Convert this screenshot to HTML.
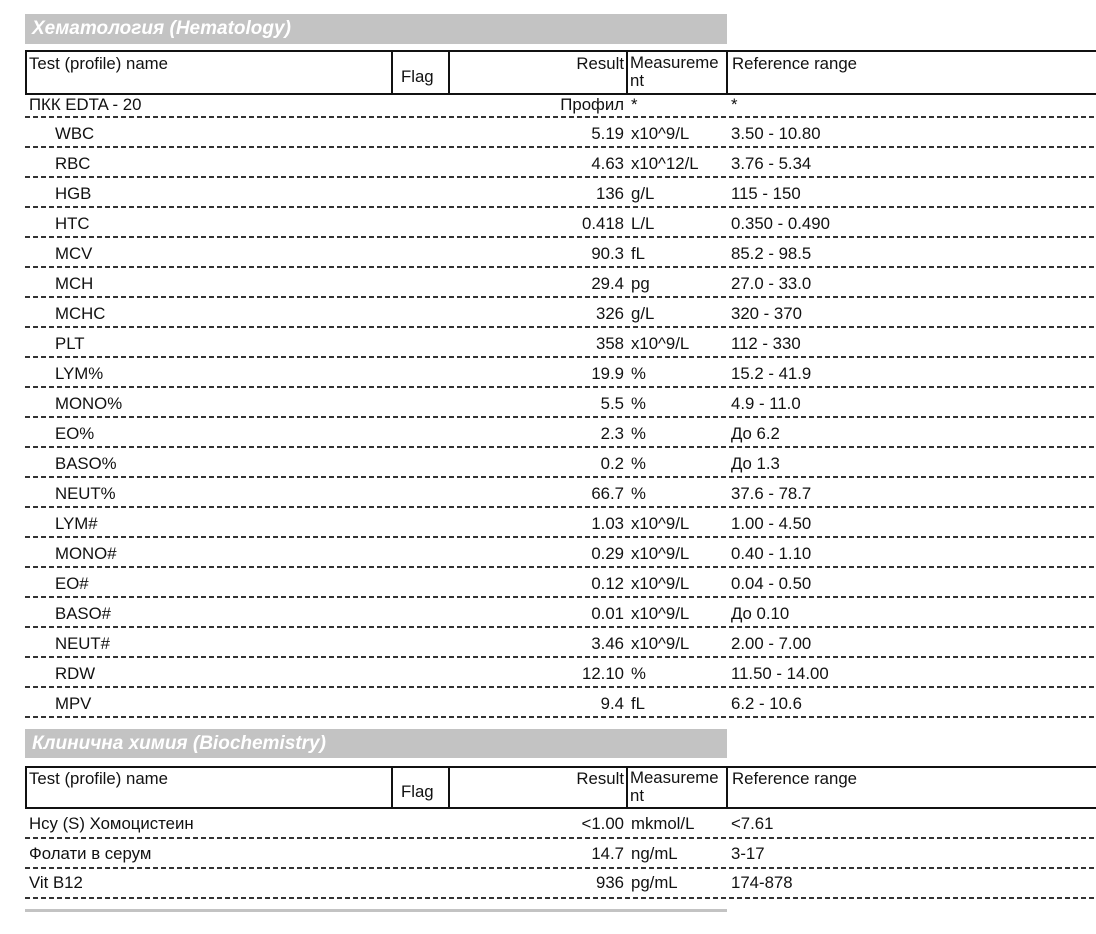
<!DOCTYPE html>
<html><head><meta charset="utf-8"><style>
body{margin:0;width:1096px;height:934px;background:#fff;position:relative;overflow:hidden;font-family:"Liberation Sans",Arial,sans-serif;font-size:16.8px;color:#111}
.a{position:absolute;white-space:nowrap;line-height:20px}
.bar{position:absolute;left:25px;width:702px;background:#c3c3c3;color:#fff;font-weight:bold;font-style:italic;font-size:19px;line-height:30px;padding-left:7px;box-sizing:border-box}
.hd{position:absolute;left:25px;width:1080px;border:2px solid #111;box-sizing:border-box}
.vl{position:absolute;width:2px;background:#111}
.dl{position:absolute;left:25px;width:1071px;height:2px;background:repeating-linear-gradient(90deg,#333 0 5px,transparent 5px 8px)}
.r{text-align:right;width:200px}
</style></head><body>
<div class="bar" style="top:14px;height:30px">Хематология (Hematology)</div>
<div class="hd" style="top:50px;height:45px"></div>
<div class="vl" style="left:391px;top:50px;height:45px"></div>
<div class="vl" style="left:448px;top:50px;height:45px"></div>
<div class="vl" style="left:626px;top:50px;height:45px"></div>
<div class="vl" style="left:726px;top:50px;height:45px"></div>
<div class="a" style="left:29px;top:54px">Test (profile) name</div>
<div class="a" style="left:401px;top:67px">Flag</div>
<div class="a r" style="left:424px;top:54px">Result</div>
<div class="a" style="left:630px;top:54px;line-height:18px">Measureme<br>nt</div>
<div class="a" style="left:732px;top:54px">Reference range</div>

<div class="a" style="left:29px;top:95px">ПКК EDTA - 20</div>
<div class="a r" style="left:424px;top:95px">Профил</div>
<div class="a" style="left:631px;top:95px">*</div>
<div class="a" style="left:731px;top:95px">*</div>
<div class="dl" style="top:116px"></div>

<div class="a" style="left:55px;top:124px">WBC</div><div class="a r" style="left:424px;top:124px">5.19</div><div class="a" style="left:631px;top:124px">x10^9/L</div><div class="a" style="left:731px;top:124px">3.50 - 10.80</div><div class="dl" style="top:146px"></div>
<div class="a" style="left:55px;top:154px">RBC</div><div class="a r" style="left:424px;top:154px">4.63</div><div class="a" style="left:631px;top:154px">x10^12/L</div><div class="a" style="left:731px;top:154px">3.76 - 5.34</div><div class="dl" style="top:176px"></div>
<div class="a" style="left:55px;top:184px">HGB</div><div class="a r" style="left:424px;top:184px">136</div><div class="a" style="left:631px;top:184px">g/L</div><div class="a" style="left:731px;top:184px">115 - 150</div><div class="dl" style="top:206px"></div>
<div class="a" style="left:55px;top:214px">HTC</div><div class="a r" style="left:424px;top:214px">0.418</div><div class="a" style="left:631px;top:214px">L/L</div><div class="a" style="left:731px;top:214px">0.350 - 0.490</div><div class="dl" style="top:236px"></div>
<div class="a" style="left:55px;top:244px">MCV</div><div class="a r" style="left:424px;top:244px">90.3</div><div class="a" style="left:631px;top:244px">fL</div><div class="a" style="left:731px;top:244px">85.2 - 98.5</div><div class="dl" style="top:266px"></div>
<div class="a" style="left:55px;top:274px">MCH</div><div class="a r" style="left:424px;top:274px">29.4</div><div class="a" style="left:631px;top:274px">pg</div><div class="a" style="left:731px;top:274px">27.0 - 33.0</div><div class="dl" style="top:296px"></div>
<div class="a" style="left:55px;top:304px">MCHC</div><div class="a r" style="left:424px;top:304px">326</div><div class="a" style="left:631px;top:304px">g/L</div><div class="a" style="left:731px;top:304px">320 - 370</div><div class="dl" style="top:326px"></div>
<div class="a" style="left:55px;top:334px">PLT</div><div class="a r" style="left:424px;top:334px">358</div><div class="a" style="left:631px;top:334px">x10^9/L</div><div class="a" style="left:731px;top:334px">112 - 330</div><div class="dl" style="top:356px"></div>
<div class="a" style="left:55px;top:364px">LYM%</div><div class="a r" style="left:424px;top:364px">19.9</div><div class="a" style="left:631px;top:364px">%</div><div class="a" style="left:731px;top:364px">15.2 - 41.9</div><div class="dl" style="top:386px"></div>
<div class="a" style="left:55px;top:394px">MONO%</div><div class="a r" style="left:424px;top:394px">5.5</div><div class="a" style="left:631px;top:394px">%</div><div class="a" style="left:731px;top:394px">4.9 - 11.0</div><div class="dl" style="top:416px"></div>
<div class="a" style="left:55px;top:424px">EO%</div><div class="a r" style="left:424px;top:424px">2.3</div><div class="a" style="left:631px;top:424px">%</div><div class="a" style="left:731px;top:424px">До 6.2</div><div class="dl" style="top:446px"></div>
<div class="a" style="left:55px;top:454px">BASO%</div><div class="a r" style="left:424px;top:454px">0.2</div><div class="a" style="left:631px;top:454px">%</div><div class="a" style="left:731px;top:454px">До 1.3</div><div class="dl" style="top:476px"></div>
<div class="a" style="left:55px;top:484px">NEUT%</div><div class="a r" style="left:424px;top:484px">66.7</div><div class="a" style="left:631px;top:484px">%</div><div class="a" style="left:731px;top:484px">37.6 - 78.7</div><div class="dl" style="top:506px"></div>
<div class="a" style="left:55px;top:514px">LYM#</div><div class="a r" style="left:424px;top:514px">1.03</div><div class="a" style="left:631px;top:514px">x10^9/L</div><div class="a" style="left:731px;top:514px">1.00 - 4.50</div><div class="dl" style="top:536px"></div>
<div class="a" style="left:55px;top:544px">MONO#</div><div class="a r" style="left:424px;top:544px">0.29</div><div class="a" style="left:631px;top:544px">x10^9/L</div><div class="a" style="left:731px;top:544px">0.40 - 1.10</div><div class="dl" style="top:566px"></div>
<div class="a" style="left:55px;top:574px">EO#</div><div class="a r" style="left:424px;top:574px">0.12</div><div class="a" style="left:631px;top:574px">x10^9/L</div><div class="a" style="left:731px;top:574px">0.04 - 0.50</div><div class="dl" style="top:596px"></div>
<div class="a" style="left:55px;top:604px">BASO#</div><div class="a r" style="left:424px;top:604px">0.01</div><div class="a" style="left:631px;top:604px">x10^9/L</div><div class="a" style="left:731px;top:604px">До 0.10</div><div class="dl" style="top:626px"></div>
<div class="a" style="left:55px;top:634px">NEUT#</div><div class="a r" style="left:424px;top:634px">3.46</div><div class="a" style="left:631px;top:634px">x10^9/L</div><div class="a" style="left:731px;top:634px">2.00 - 7.00</div><div class="dl" style="top:656px"></div>
<div class="a" style="left:55px;top:664px">RDW</div><div class="a r" style="left:424px;top:664px">12.10</div><div class="a" style="left:631px;top:664px">%</div><div class="a" style="left:731px;top:664px">11.50 - 14.00</div><div class="dl" style="top:686px"></div>
<div class="a" style="left:55px;top:694px">MPV</div><div class="a r" style="left:424px;top:694px">9.4</div><div class="a" style="left:631px;top:694px">fL</div><div class="a" style="left:731px;top:694px">6.2 - 10.6</div><div class="dl" style="top:716px"></div>

<div class="bar" style="top:729px;height:29px;line-height:29px">Клинична химия (Biochemistry)</div>
<div class="hd" style="top:766px;height:43px"></div>
<div class="vl" style="left:391px;top:766px;height:43px"></div>
<div class="vl" style="left:448px;top:766px;height:43px"></div>
<div class="vl" style="left:626px;top:766px;height:43px"></div>
<div class="vl" style="left:726px;top:766px;height:43px"></div>
<div class="a" style="left:29px;top:769px">Test (profile) name</div>
<div class="a" style="left:401px;top:782px">Flag</div>
<div class="a r" style="left:424px;top:769px">Result</div>
<div class="a" style="left:630px;top:769px;line-height:18px">Measureme<br>nt</div>
<div class="a" style="left:732px;top:769px">Reference range</div>

<div class="a" style="left:29px;top:814px">Hcy (S) Хомоцистеин</div><div class="a r" style="left:424px;top:814px">&lt;1.00</div><div class="a" style="left:631px;top:814px">mkmol/L</div><div class="a" style="left:731px;top:814px">&lt;7.61</div><div class="dl" style="top:837px"></div>
<div class="a" style="left:29px;top:844px">Фолати в серум</div><div class="a r" style="left:424px;top:844px">14.7</div><div class="a" style="left:631px;top:844px">ng/mL</div><div class="a" style="left:731px;top:844px">3-17</div><div class="dl" style="top:867px"></div>
<div class="a" style="left:29px;top:873px">Vit B12</div><div class="a r" style="left:424px;top:873px">936</div><div class="a" style="left:631px;top:873px">pg/mL</div><div class="a" style="left:731px;top:873px">174-878</div><div class="dl" style="top:897px"></div>
<div style="position:absolute;left:25px;top:909px;width:702px;height:3px;background:#c3c3c3"></div>
</body></html>
